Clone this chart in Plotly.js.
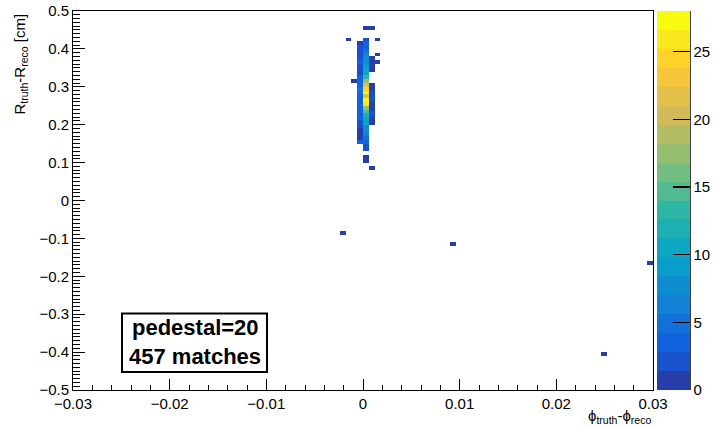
<!DOCTYPE html>
<html><head><meta charset="utf-8">
<script src="https://cdn.plot.ly/plotly-3.0.1.min.js"></script>
<style>html,body{margin:0;padding:0;background:#fff;} #chart{width:714px;height:428px;}</style>
</head><body><div id="chart"></div>
<script>
// ---- data (bin centres, counts) ----
// R_truth - R_reco row centres of the central cluster [cm]
const rowY = [0.085,0.095,0.105,0.115,0.125,0.135,0.145,0.155,0.165,0.175,
              0.185,0.195,0.205,0.215,0.225,0.235,0.245,0.255,0.265,0.275,
              0.285,0.295,0.305,0.315,0.325,0.335,0.345,0.355,0.365,0.375,
              0.385,0.395,0.405,0.415,0.425,0.435,0.445,0.455];
// counts in phi bin [-0.0006, 0]
const countB = [0,0,0,0,0,0,0,3,1,1, 1,2,2,3,3,4,4,4,4,4, 5,5,4,4,4,2,2,2,3,2, 2,2,2,1,0,0,0,0];
// counts in phi bin [0, 0.0006]
const countC = [0,0,1,1,0,2,2,4,5,6, 8,8,10,11,12,15,18,26,27,22, 28,25,21,18,13,11,11,9,8,8, 6,5,3,3,2,0,0,1];
// counts in phi bin [0.0006, 0.0012]
const countD = [1,0,0,0,0,0,0,0,0,0, 0,0,1,1,2,2,1,1,2,2, 2,1,1,0,0,0,1,1,1,1, 0,0,0,0,0,0,0,1];
const phiB = -0.0003, phiC = 0.0003, phiD = 0.0009;
// scattered single entries
const sparseX = [-0.0015,-0.0009,0.0015,0.0015,0.0015,-0.0021,0.0093,0.0297,0.0249];
const sparseY = [0.425,0.315,0.425,0.385,0.365,-0.085,-0.115,-0.165,-0.405];
const sparseN = [1,1,1,1,1,1,1,1,1];
const cbTicks = [0,5,10,15,20,25];
const zMax = 28;

// ---- histogram binning (100 x 100 bins) ----
const NX = 100, NY = 100, XLO = -0.03, XW = 0.0006, YLO = -0.5, YW = 0.01;
const xEdges = [], yEdges = [];
for (let i = 0; i <= NX; i++) xEdges.push(XLO + i * XW);
for (let j = 0; j <= NY; j++) yEdges.push(YLO + j * YW);
const z = [];
for (let j = 0; j < NY; j++) z.push(new Array(NX).fill(null));
function addBin(x, y, n) {
  if (!n) return;
  const i = Math.floor((x - XLO) / XW), j = Math.floor((y - YLO) / YW);
  if (i < 0 || i >= NX || j < 0 || j >= NY) return;
  z[j][i] = (z[j][i] || 0) + n;
}
rowY.forEach((y, k) => { addBin(phiB, y, countB[k]); addBin(phiC, y, countC[k]); addBin(phiD, y, countD[k]); });
sparseX.forEach((x, k) => addBin(x, sparseY[k], sparseN[k]));

// ---- ROOT kBird palette, 20 contour levels ----
const bS = [0,0.125,0.25,0.375,0.5,0.625,0.75,0.875,1];
const bR = [0.2082,0.0592,0.0780,0.0232,0.1802,0.5301,0.8186,0.9956,0.9764];
const bG = [0.1664,0.3599,0.5041,0.6419,0.7178,0.7492,0.7328,0.7862,0.9832];
const bB = [0.5293,0.8684,0.8385,0.7914,0.6425,0.4662,0.3499,0.1968,0.0539];
function bird(f) {
  let k = 0; while (k < bS.length - 2 && f > bS[k + 1]) k++;
  const t = (f - bS[k]) / (bS[k + 1] - bS[k]);
  const c = a => Math.round(255 * (a[k] + (a[k + 1] - a[k]) * t));
  return 'rgb(' + c(bR) + ',' + c(bG) + ',' + c(bB) + ')';
}
const NLEV = 20, NCOL = 255, cs = [];
for (let i = 0; i < NLEV; i++) {
  const idx = Math.min(NCOL - 1, Math.floor((i + 0.99) * NCOL / NLEV));
  const col = bird(idx / (NCOL - 1));
  cs.push([i / NLEV, col]); cs.push([(i + 1) / NLEV, col]);
}

const L = 73, R = 653, T = 11, B = 390, W = 714, H = 428;
const px = p => (p - L) / (R - L);
const py = p => (B - p) / (B - T);

const trace = {
  type: 'heatmap', x: xEdges, y: yEdges, z: z,
  zmin: 0, zmax: zMax, colorscale: cs, zsmooth: false, hoverinfo: 'skip',
  colorbar: {
    x: px(657), xanchor: 'left', xpad: 0, ypad: 0,
    y: 0.5, yanchor: 'middle', len: 1, lenmode: 'fraction',
    thickness: 33, thicknessmode: 'pixels', outlinewidth: 0,
    tickvals: cbTicks, ticktext: cbTicks.map(String),
    ticks: 'inside', ticklen: 17, tickwidth: 1.5, tickcolor: '#000',
    tickfont: { size: 15, color: '#000' }
  }
};

const axisCommon = {
  ticks: 'inside', tickcolor: '#000', tickwidth: 1,
  showline: true, linecolor: '#000', linewidth: 1, mirror: true,
  showgrid: false, zeroline: false, tickfont: { size: 15, color: '#000' }
};

const layout = {
  width: W, height: H,
  margin: { l: L, r: W - R, t: T, b: H - B, pad: 0, autoexpand: false },
  paper_bgcolor: '#fff', plot_bgcolor: '#fff',
  font: { family: 'Liberation Sans, Arial, sans-serif', size: 15, color: '#000' },
  xaxis: Object.assign({}, axisCommon, {
    range: [-0.03, 0.03], tick0: 0, dtick: 0.01, ticklen: 11,
    minor: { dtick: 0.002, ticks: 'inside', ticklen: 5.5, tickcolor: '#000', showgrid: false }
  }),
  yaxis: Object.assign({}, axisCommon, {
    range: [-0.5, 0.5], tick0: 0, dtick: 0.1, ticklen: 12,
    minor: { dtick: 0.01, ticks: 'inside', ticklen: 7, tickcolor: '#000', showgrid: false }
  }),
  shapes: [
    { type: 'line', xref: 'paper', yref: 'paper', x0: px(690), x1: px(690), y0: 0, y1: 1,
      line: { color: '#000', width: 1.5 } },
    { type: 'rect', xref: 'paper', yref: 'paper', x0: px(122), x1: px(267), y0: py(372), y1: py(313.5),
      fillcolor: '#fff', line: { color: '#000', width: 2 }, layer: 'above' }
  ],
  annotations: [
    { text: 'R<sub>truth</sub>-R<sub>reco</sub> [cm]', textangle: -90, showarrow: false,
      xref: 'paper', yref: 'paper', x: px(20), xanchor: 'center', y: py(12), yanchor: 'top',
      font: { size: 15, color: '#000' } },
    { text: '\u03D5<sub>truth</sub>-\u03D5<sub>reco</sub>', showarrow: false,
      xref: 'paper', yref: 'paper', x: 1, xanchor: 'right', y: py(405), yanchor: 'top',
      font: { size: 15, color: '#000' } },
    { text: '<b>pedestal=20</b>', showarrow: false, xref: 'paper', yref: 'paper',
      x: px(195), xanchor: 'center', y: py(327.5), yanchor: 'middle',
      font: { size: 22, color: '#000' } },
    { text: '<b>457 matches</b>', showarrow: false, xref: 'paper', yref: 'paper',
      x: px(195), xanchor: 'center', y: py(356.5), yanchor: 'middle',
      font: { size: 22, color: '#000' } }
  ]
};

Plotly.newPlot('chart', [trace], layout, { staticPlot: true, displayModeBar: false });
</script>
</body></html>
